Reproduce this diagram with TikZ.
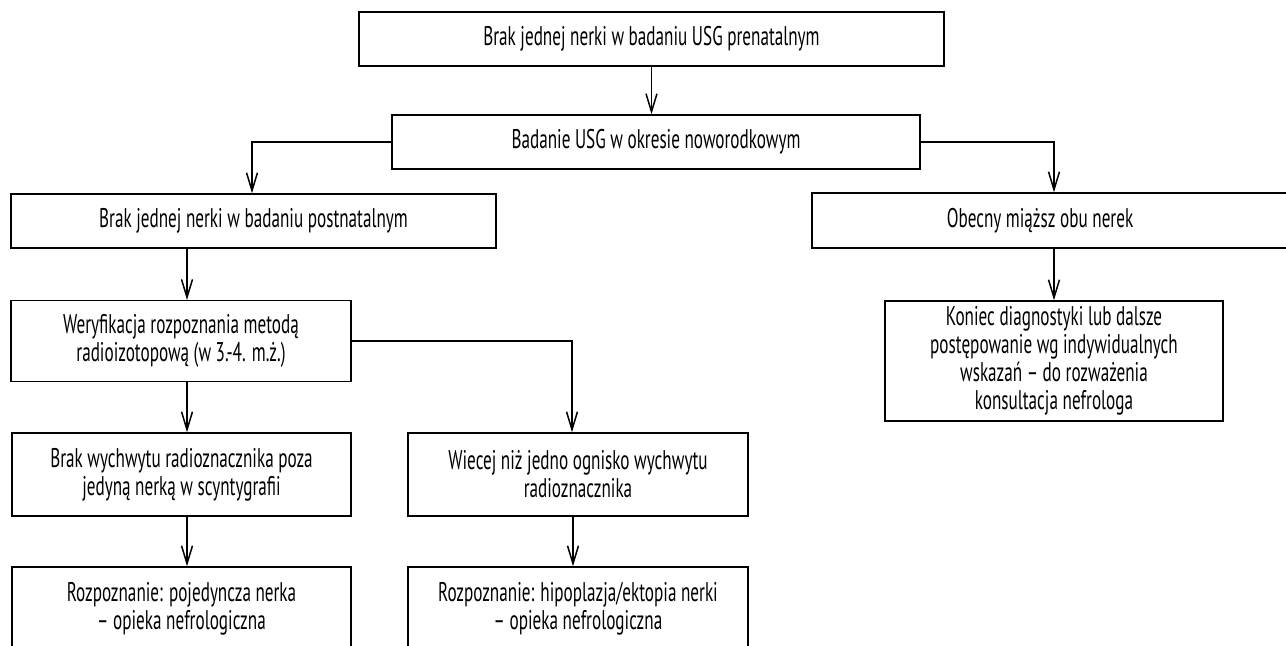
\documentclass[tikz,border=0pt]{standalone}
\usepackage{fontspec}
\setmainfont[FakeStretch=0.635]{PT Sans}
\usetikzlibrary{arrows.meta}
\begin{document}
\begin{tikzpicture}[x=0.5pt,y=-0.5pt,
  box/.style={draw=black,line width=0.75pt,inner sep=0pt,align=center,font=\fontsize{13.5pt}{14pt}\selectfont},
  arr/.style={draw=black,line width=0.75pt,-{Straight Barb[length=9pt,width=5.5pt,line width=0.75pt]}}]
\useasboundingbox (0,0) rectangle (1286,645);
\clip (0,0) rectangle (1286,645);
\node[box,minimum width=292.5pt,minimum height=27pt] (b1) at (651.5,39) {Brak jednej nerki w badaniu USG prenatalnym};
\node[box,minimum width=264pt,minimum height=27pt] (b2) at (656,142) {Badanie USG w okresie noworodkowym};
\node[box,minimum width=242.5pt,minimum height=27pt] (b3) at (253.5,221) {Brak jednej nerki w badaniu postnatalnym};
\node[box,minimum width=242pt,minimum height=27.5pt] (r1) at (1054,220.5) {\hspace*{-14pt}Obecny miąższ obu nerek};
\node[box,minimum width=170pt,minimum height=40.5pt] (b4) at (181,341.2) {Weryfikacja rozpoznania metodą\\radioizotopową (w 3.-4. m.ż.)};
\node[box,minimum width=169pt,minimum height=60pt] (r2) at (1054,361) {Koniec diagnostyki lub dalsze\\postępowanie wg indywidualnych\\wskazań – do rozważenia\\konsultacja nefrologa};
\node[box,minimum width=169.5pt,minimum height=41.5pt] (b5) at (181.5,474.5) {Brak wychwytu radioznacznika poza\\jedyną nerką w scyntygrafii};
\node[box,minimum width=170pt,minimum height=41.5pt] (b6) at (578,474.5) {Wiecej niż jedno ognisko wychwytu\\radioznacznika};
\node[box,minimum width=169.5pt,minimum height=41.5pt] (b7) at (181.5,608.5) {Rozpoznanie: pojedyncza nerka\\– opieka nefrologiczna};
\node[box,minimum width=170pt,minimum height=41.5pt] (b8) at (578,608.5) {Rozpoznanie: hipoplazja/ektopia nerki\\– opieka nefrologiczna};
\draw[arr] (b1.south) -- (b1.south |- b2.north);
\draw[arr] (b2.west) -| ([xshift=-0.75pt]b3.north);
\draw[arr] (b2.east) -| (r1.north);
\draw[arr] ([xshift=3pt]b4.north |- b3.south) -- ([xshift=3pt]b4.north);
\draw[arr] (r1.south) -- (r2.north);
\draw[arr] ([xshift=3pt]b4.south) -- ([xshift=3pt]b4.south |- b5.north);
\draw[arr] (b4.east) -| ([xshift=-3pt]b6.north);
\draw[arr] ([xshift=2.75pt]b5.south) -- ([xshift=2.75pt]b5.south |- b7.north);
\draw[arr] ([xshift=-2.5pt]b6.south) -- ([xshift=-2.5pt]b6.south |- b8.north);
\end{tikzpicture}
\end{document}
